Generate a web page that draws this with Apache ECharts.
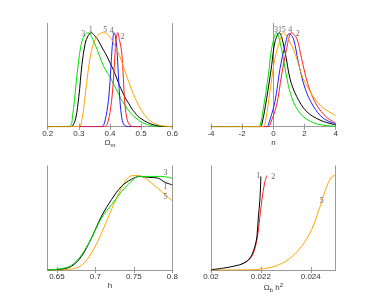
<!DOCTYPE html>
<html><head><meta charset="utf-8">
<script src="https://cdn.jsdelivr.net/npm/echarts@6/dist/echarts.min.js"></script>
<style>html,body{margin:0;padding:0;background:#fff}#c{width:371px;height:303px}</style>
</head><body><div id="c"></div>
<script>
// ---------- Panel 1: Omega_m ----------
var p1Ticks = [0.2, 0.3, 0.4, 0.5, 0.6];
var p1_1x = [0.20,0.27,0.28,0.29,0.30,0.31,0.32,0.33,0.34,0.35,0.36,0.37,0.38,0.39,0.40,0.41,0.42,0.43,0.44,0.45,0.46,0.47,0.48,0.49,0.50,0.52,0.54,0.56,0.60];
var p1_1y = [0,0,0.01,0.09,0.32,0.66,0.88,0.97,1.0,0.97,0.93,0.87,0.81,0.75,0.68,0.61,0.53,0.44,0.37,0.30,0.25,0.19,0.15,0.11,0.085,0.045,0.02,0.006,0];
var p1_3x = [0.20,0.27,0.28,0.29,0.30,0.31,0.32,0.33,0.34,0.35,0.36,0.37,0.38,0.39,0.40,0.41,0.42,0.43,0.44,0.45,0.46,0.47,0.48,0.49,0.50,0.52,0.54,0.56,0.60];
var p1_3y = [0,0.005,0.12,0.42,0.72,0.91,0.98,1.0,0.96,0.89,0.81,0.72,0.64,0.58,0.53,0.46,0.40,0.33,0.27,0.22,0.17,0.13,0.10,0.075,0.05,0.022,0.008,0.002,0];
var p1_5x = [0.20,0.30,0.31,0.32,0.33,0.34,0.35,0.36,0.37,0.38,0.39,0.40,0.41,0.42,0.43,0.44,0.45,0.46,0.47,0.48,0.49,0.50,0.51,0.52,0.53,0.55,0.57,0.60];
var p1_5y = [0,0,0.08,0.32,0.60,0.80,0.91,0.97,0.995,1.0,0.99,0.95,0.90,0.83,0.76,0.67,0.57,0.48,0.39,0.31,0.24,0.18,0.13,0.09,0.06,0.025,0.008,0];
var p1_4x = [0.30,0.37,0.38,0.385,0.39,0.395,0.40,0.405,0.41,0.413,0.417,0.422,0.427,0.432,0.4375,0.443,0.45,0.46,0.50];
var p1_4y = [0,0,0.02,0.08,0.16,0.28,0.48,0.75,0.96,1.0,0.97,0.84,0.54,0.27,0.10,0.03,0.008,0,0];
var p1_2x = [0.30,0.38,0.39,0.395,0.40,0.405,0.41,0.415,0.42,0.425,0.43,0.4375,0.443,0.448,0.4555,0.464,0.475,0.50];
var p1_2y = [0,0,0.02,0.07,0.15,0.27,0.45,0.72,0.94,1.0,0.93,0.795,0.51,0.23,0.07,0.015,0,0];
var p1Labels = [["3",0.314,0.99],["1",0.338,1.03],["5",0.385,1.03],["4",0.406,1.02],["2",0.44,0.95]];

// ---------- Panel 2: n ----------
var p2Ticks = [-4, -2, 0, 2, 4];
var p2_3x = [-4,-1.0,-0.86,-0.64,-0.32,-0.11,0.21,0.40,0.64,0.96,1.28,1.6,1.92,2.4,2.78,3.4,4];
var p2_3y = [0,0,0.01,0.195,0.548,0.83,1.0,0.92,0.725,0.44,0.265,0.17,0.106,0.055,0.03,0.012,0.005];
var p2_1x = [-4,-0.9,-0.75,-0.43,-0.11,0.1,0.38,0.75,1.07,1.5,2.14,3.0,3.85,4];
var p2_1y = [0,0,0.02,0.30,0.65,0.90,1.0,0.795,0.51,0.32,0.16,0.07,0.025,0.02];
var p2_5x = [-4,-0.7,-0.54,-0.22,0.1,0.43,0.64,1.07,1.5,1.92,2.56,3.2,4];
var p2_5y = [0,0,0.03,0.37,0.725,0.92,1.0,0.90,0.725,0.51,0.32,0.20,0.12];
var p2_4x = [-1,-0.4,-0.32,0.1,0.43,0.75,1.02,1.28,1.6,2.03,2.56,3.2,4];
var p2_4y = [0,0,0.02,0.265,0.62,0.867,0.99,0.94,0.69,0.41,0.22,0.09,0.03];
var p2_2x = [-1,-0.3,-0.22,0.21,0.53,0.85,1.17,1.5,1.81,2.24,2.78,3.42,4];
var p2_2y = [0,0,0.02,0.23,0.55,0.83,1.0,0.94,0.725,0.44,0.23,0.10,0.04];
var p2Labels = [["3",0.17,1.03],["1",0.43,1.03],["5",0.66,1.03],["4",1.09,1.03],["2",1.56,0.99]];

// ---------- Panel 3: h ----------
var p3Ticks = [0.65, 0.7, 0.75, 0.8];
var p3_1x = [0.638,0.656,0.669,0.682,0.695,0.708,0.721,0.734,0.747,0.758,0.769,0.782,0.79,0.8];
var p3_1y = [0,0.01,0.04,0.145,0.34,0.57,0.745,0.885,0.96,0.99,0.98,0.97,0.93,0.90];
var p3_3x = [0.638,0.656,0.669,0.682,0.695,0.708,0.721,0.734,0.747,0.756,0.77,0.785,0.795,0.8];
var p3_3y = [0,0.015,0.05,0.16,0.34,0.55,0.69,0.83,0.94,0.99,0.99,0.99,0.98,0.97];
var p3_5x = [0.638,0.669,0.682,0.695,0.708,0.721,0.734,0.743,0.751,0.76,0.773,0.786,0.8];
var p3_5y = [0,0.01,0.05,0.18,0.39,0.64,0.87,0.98,1.0,0.99,0.92,0.83,0.73];
var p3Labels = [["3",0.791,1.03],["1",0.791,0.875],["5",0.791,0.77]];

// ---------- Panel 4: Omega_b h^2 ----------
var p4Ticks = [0.02, 0.022, 0.024];
var p4TickLabels = ["0.02", "0.022", "0.024"];
var p4_1x = [0.02,0.0205,0.021,0.0213,0.0215,0.02164,0.02176,0.02184,0.0219,0.02196,0.022];
var p4_1y = [0.003,0.02,0.045,0.07,0.106,0.16,0.25,0.35,0.56,0.74,0.99];
var p4_2x = [0.0212,0.0216,0.02181,0.02193,0.02204,0.02215,0.02224];
var p4_2y = [0.06,0.13,0.28,0.49,0.74,0.92,1.0];
var p4_5x = [0.02,0.0215,0.022,0.02256,0.0231,0.02363,0.02404,0.02437,0.02464,0.02484,0.025];
var p4_5y = [0,0.002,0.01,0.04,0.11,0.25,0.43,0.67,0.885,0.985,1.0];
var p4Labels = [["1",0.02189,0.994],["2",0.0225,0.98],["5",0.02444,0.73]];

var COL = {1:'#000000', 2:'#ff2020', 3:'#00e000', 4:'#2020ff', 5:'#ffa500'};
function zip(xs, ys){ return xs.map(function(x,i){ return [x, ys[i]]; }); }

var grids = [
  {left:47.7, top:23.3, width:124.6, height:103.4},
  {left:211, top:23.3, width:124.7, height:103.4},
  {left:47.7, top:166, width:124.6, height:104},
  {left:211, top:166, width:124.7, height:104}
];
var ranges = [[0.2,0.6],[-4,4],[0.638,0.8],[0.02,0.025]];
var ticks = [p1Ticks, p2Ticks, p3Ticks, p4Ticks];
var names = [
  '{o|Ω}{s|m}', '{o|n}', '{o|h}', '{o|Ω}{s|b}{o| h}{p|2}'
];
var fmt = [
  function(v){return String(v);},
  function(v){return String(v);},
  function(v){return String(v);},
  function(v){ var k = p4Ticks.findIndex(function(t){return Math.abs(t-v)<1e-9;}); return k>=0 ? p4TickLabels[k] : ''; }
];

var xAxes = [], yAxes = [];
grids.forEach(function(g, i){
  xAxes.push({
    type:'value', gridIndex:i, min:ranges[i][0], max:ranges[i][1], position:'bottom',
    axisLine:{show:true, lineStyle:{color:'#9a9a9a', width:1}},
    axisTick:{show:true, inside:true, length:3, customValues:ticks[i], lineStyle:{color:'#9a9a9a'}},
    axisLabel:{show:true, customValues:ticks[i], fontSize:8, color:'#333', margin:3, fontFamily:'Liberation Sans',
      formatter: fmt[i]},
    splitLine:{show:false},
    name:names[i], nameLocation:'middle', nameGap:7,
    nameTextStyle:{rich:{
      o:{fontSize:8, color:'#333', fontFamily:'Liberation Sans'},
      s:{fontSize:6, color:'#333', fontFamily:'Liberation Sans', verticalAlign:'bottom', padding:[5,0,0,0]},
      p:{fontSize:6, color:'#333', fontFamily:'Liberation Sans', padding:[0,0,5,0]}
    }}
  });
  xAxes.push({
    type:'value', gridIndex:i, min:ranges[i][0], max:ranges[i][1], position:'top',
    axisLine:{show:true, lineStyle:{color:'#9a9a9a', width:1}},
    axisTick:{show:true, inside:true, length:3, customValues:ticks[i], lineStyle:{color:'#9a9a9a'}},
    axisLabel:{show:false}, splitLine:{show:false}
  });
  yAxes.push({
    type:'value', gridIndex:i, min:0, max:1.1,
    axisLine:{show:true, lineStyle:{color:'#9a9a9a'}},
    axisTick:{show:false}, axisLabel:{show:false}, splitLine:{show:false}
  });
  yAxes.push({
    type:'value', gridIndex:i, min:0, max:1.1, position:'right',
    axisLine:{show:true, lineStyle:{color:'#9a9a9a'}},
    axisTick:{show:false}, axisLabel:{show:false}, splitLine:{show:false}
  });
});

var series = [];
function addLine(panel, id, xs, ys){
  series.push({
    type:'line', xAxisIndex:panel*2, yAxisIndex:panel*2, data:zip(xs, ys),
    showSymbol:false, smooth:0.35, animation:false, silent:true,
    lineStyle:{color:COL[id], width:1}, z: 2
  });
}
addLine(0,3,p1_3x,p1_3y); addLine(0,1,p1_1x,p1_1y); addLine(0,4,p1_4x,p1_4y); addLine(0,2,p1_2x,p1_2y); addLine(0,5,p1_5x,p1_5y);
addLine(1,3,p2_3x,p2_3y); addLine(1,1,p2_1x,p2_1y); addLine(1,4,p2_4x,p2_4y); addLine(1,2,p2_2x,p2_2y); addLine(1,5,p2_5x,p2_5y);
addLine(2,5,p3_5x,p3_5y); addLine(2,1,p3_1x,p3_1y); addLine(2,3,p3_3x,p3_3y);
addLine(3,5,p4_5x,p4_5y); addLine(3,2,p4_2x,p4_2y); addLine(3,1,p4_1x,p4_1y);

[p1Labels, p2Labels, p3Labels, p4Labels].forEach(function(labs, i){
  series.push({
    type:'scatter', xAxisIndex:i*2, yAxisIndex:i*2, symbolSize:0, animation:false, silent:true,
    data: labs.map(function(l){ return {value:[l[1], l[2]], name:l[0]}; }),
    label:{show:true, position:'inside', formatter:function(p){return p.name;},
      fontSize:8, color:'#444', fontFamily:'Liberation Serif'}
  });
});

var chart = echarts.init(document.getElementById('c'), null, {renderer:'canvas'});
chart.setOption({
  animation:false,
  backgroundColor:'#fff',
  grid: grids.map(function(g){ return Object.assign({containLabel:false}, g); }),
  xAxis: xAxes, yAxis: yAxes, series: series
});
</script></body></html>
